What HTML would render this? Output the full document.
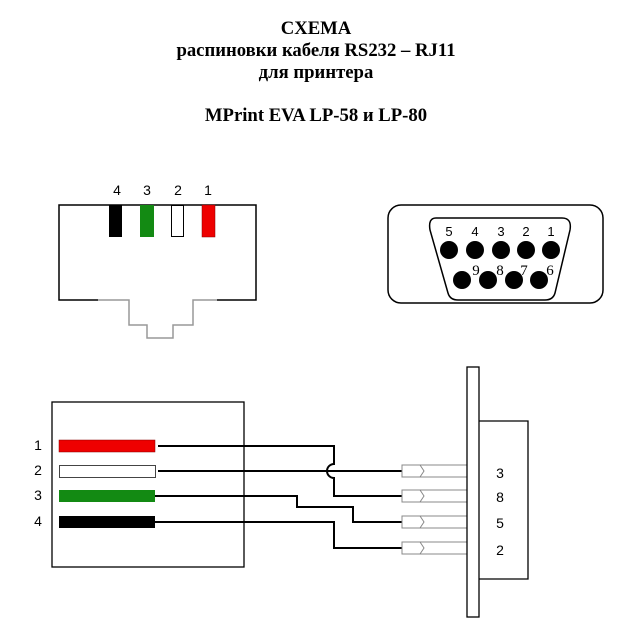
<!DOCTYPE html>
<html><head><meta charset="utf-8"><style>
html,body{margin:0;padding:0;background:#fff;}
svg{display:block;}
</style></head><body>
<svg width="619" height="624" viewBox="0 0 619 624" xmlns="http://www.w3.org/2000/svg">
<g font-family="Liberation Serif, serif" font-weight="bold" font-size="18.7" text-anchor="middle" fill="#000">
<text x="316" y="34">CXEMA</text>
<text x="316" y="56">распиновки кабеля RS232 – RJ11</text>
<text x="316" y="78">для принтера</text>
<text x="316" y="121">MPrint EVA LP-58 и LP-80</text>
</g>
<!-- RJ11 top -->
<g font-family="Liberation Sans, sans-serif" font-size="14" text-anchor="middle" fill="#000">
<text x="117" y="195">4</text><text x="147" y="195">3</text><text x="178" y="195">2</text><text x="208" y="195">1</text>
</g>
<path d="M98 300 H59 V205 H256 V300 H217" fill="none" stroke="#000" stroke-width="1.5"/>
<path d="M98 300 H129 V325 H147 V338 H173 V325 H193 V300 H217" fill="none" stroke="#999" stroke-width="1.5"/>
<rect x="109" y="205" width="13" height="32" fill="#000"/>
<rect x="140" y="205" width="14" height="32" fill="#138a13"/>
<rect x="171.5" y="205.5" width="12" height="31" fill="#fff" stroke="#000"/>
<rect x="202" y="205" width="13" height="32" fill="#e00" stroke="#800" stroke-width="0.5"/>
<!-- DB9 -->
<rect x="388" y="205" width="215" height="98" rx="13" fill="none" stroke="#000" stroke-width="1.5"/>
<path d="M436 218 H562 Q572 218 570 230 L555 293 Q553 300 545 300 H458 Q450 300 448 293 L430 230 Q428 218 436 218 Z" fill="none" stroke="#000" stroke-width="1.5"/>
<g fill="#000">
<circle cx="449" cy="250" r="9"/><circle cx="475" cy="250" r="9"/><circle cx="501" cy="250" r="9"/><circle cx="526" cy="250" r="9"/><circle cx="551" cy="250" r="9"/>
<circle cx="462" cy="280" r="9"/><circle cx="488" cy="280" r="9"/><circle cx="514" cy="280" r="9"/><circle cx="539" cy="280" r="9"/>
</g>
<g font-family="Liberation Sans, sans-serif" font-size="13" text-anchor="middle" fill="#000">
<text x="449" y="236">5</text><text x="475" y="236">4</text><text x="501" y="236">3</text><text x="526" y="236">2</text><text x="551" y="236">1</text>
</g>
<g font-family="Liberation Serif, serif" font-size="15" text-anchor="middle" fill="#000">
<text x="476" y="275">9</text><text x="500" y="275">8</text><text x="524" y="275">7</text><text x="550" y="275">6</text>
</g>
<!-- bottom diagram -->
<rect x="52" y="402" width="192" height="165" fill="none" stroke="#000" stroke-width="1.3"/>
<g font-family="Liberation Sans, sans-serif" font-size="14" text-anchor="middle" fill="#000">
<text x="38" y="450">1</text><text x="38" y="475">2</text><text x="38" y="500">3</text><text x="38" y="526">4</text>
</g>
<rect x="59" y="440" width="96" height="12" fill="#e00" stroke="#800" stroke-width="0.5"/>
<rect x="59.5" y="465.5" width="96" height="12" fill="#fff" stroke="#444"/>
<rect x="59" y="490" width="96" height="12" fill="#138a13"/>
<rect x="59" y="516" width="96" height="12" fill="#000"/>
<g fill="none" stroke="#000" stroke-width="2">
<path d="M158 446 H334 V464 A7 7 0 0 0 334 478 V496 H402"/>
<path d="M158 471 H402"/>
<path d="M155 496 H297 V507 H353 V522 H402"/>
<path d="M155 522 H334 V548 H402"/>
</g>
<g fill="#fff" stroke="#888" stroke-width="1">
<rect x="402" y="465" width="65" height="12"/><path d="M420 465 L424 471 L420 477"/>
<rect x="402" y="490" width="65" height="12"/><path d="M420 490 L424 496 L420 502"/>
<rect x="402" y="516" width="65" height="12"/><path d="M420 516 L424 522 L420 528"/>
<rect x="402" y="542" width="65" height="12"/><path d="M420 542 L424 548 L420 554"/>
</g>
<rect x="467" y="367" width="12" height="250" fill="#fff" stroke="#000" stroke-width="1.3"/>
<path d="M479 421 H528 V579 H479" fill="none" stroke="#000" stroke-width="1.3"/>
<g font-family="Liberation Sans, sans-serif" font-size="14" text-anchor="middle" fill="#000">
<text x="500" y="478">3</text><text x="500" y="502">8</text><text x="500" y="528">5</text><text x="500" y="555">2</text>
</g>
</svg>
</body></html>
